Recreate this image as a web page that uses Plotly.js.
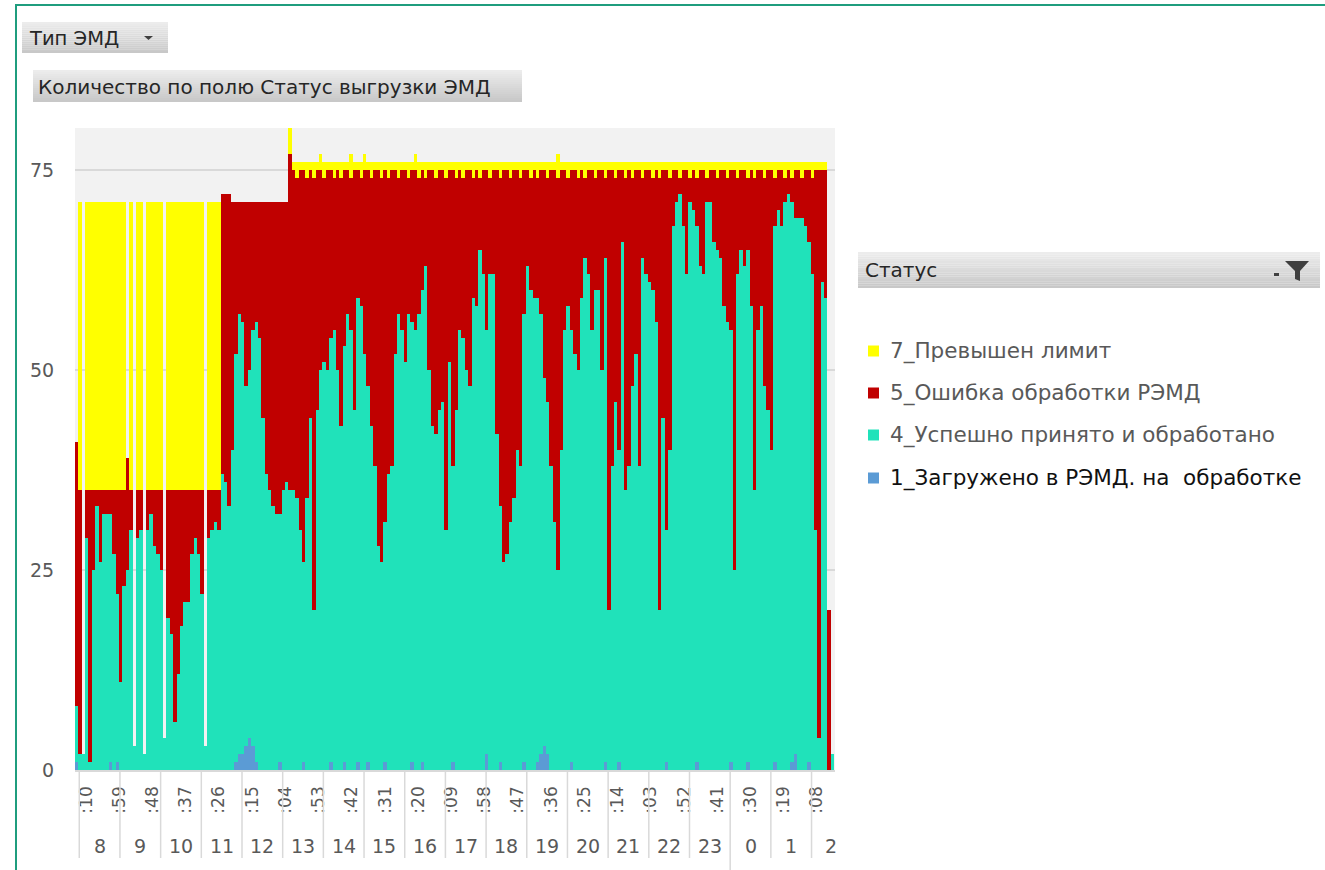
<!DOCTYPE html>
<html><head><meta charset="utf-8">
<script src="https://cdn.plot.ly/plotly-3.0.1.min.js"></script>
<style>html,body{margin:0;padding:0;background:#fff;} #chart{width:1325px;height:870px;}</style>
</head><body><div id="chart"></div>
<script>
// ---------- DATA ----------
const seriesNames = ['1_Загружено в РЭМД. на  обработке', '4_Успешно принято и обработано', '5_Ошибка обработки РЭМД', '7_Превышен лимит'];
const seriesColors = ['#5b9bd5', '#20e2ba', '#c00000', '#ffff00'];

// counts per 5-minute bin (bin 0 centred 4 minutes before 8:00)
const loaded = [
1,0,0,0,0,0,0,0,0,0, 1,0,1,0,0,0,0,0,0,0, 0,0,0,0,0,0,0,0,0,0, 0,0,0,0,0,0,0,0,0,0,
0,0,0,0,0,0,0,1,2,2, 3,4,3,1,0,0,0,0,0,0, 1,0,0,0,0,0,0,1,0,0, 0,0,0,0,0,1,0,0,0,1,
0,0,0,1,0,0,1,0,0,0, 0,1,0,0,0,0,0,0,0,1, 0,0,1,0,0,0,0,0,0,0, 0,1,0,0,0,0,0,0,0,0,
0,2,0,0,0,1,0,0,0,0, 0,0,1,0,0,0,1,2,3,2, 0,0,0,0,0,0,1,0,0,0, 0,0,0,0,0,0,1,0,0,0,
1,0,0,0,0,0,0,0,0,0, 0,0,0,0,1,0,0,0,0,0, 0,0,0,1,0,0,0,0,0,0, 0,0,0,1,0,0,0,0,1,0,
0,0,0,0,0,0,1,0,0,0, 0,1,2,0,0,0,1,0,0,0, 0,0,0,0];
const success = [
7,2,2,29,1,25,33,26,32,32, 31,27,21,11,23,25,30,3,29,30, 2,30,32,28,27,25,4,19,17,6,
12,18,21,21,27,29,27,22,3,29, 30,31,30,37,36,33,40,51,55,54, 45,46,52,55,54,44,37,35,33,32,
31,35,36,35,35,34,30,25,34,44, 20,45,50,51,50,53,55,50,43,52, 57,55,45,58,58,52,47,43,38,28,
26,30,37,38,52,57,55,51,57,55, 55,57,59,63,50,43,42,45,46,30, 51,37,45,55,54,50,48,59,58,65,
62,53,62,62,42,32,26,27,31,34, 40,38,56,63,60,59,58,55,46,44, 38,31,25,40,55,58,54,52,50,59,
64,62,55,60,60,50,63,20,38,46, 39,66,35,38,48,52,38,64,62,61, 60,56,20,44,29,40,68,71,72,68,
62,71,70,67,63,62,71,71,66,65, 64,58,56,54,25,62,65,63,64,58, 35,55,58,48,45,40,67,70,68,71,
72,70,67,69,69,68,65,62,30,4, 61,59,0,2];
const errors = [
33,33,0,6,34,10,2,9,3,3, 3,8,13,24,12,14,5,0,6,5, 0,5,3,7,8,10,0,16,18,29,
23,17,14,14,8,6,8,13,0,6, 5,4,5,35,36,39,31,19,14,15, 23,21,16,15,17,27,34,36,38,39,
39,36,35,42,40,40,45,49,40,31, 54,30,25,23,25,21,19,25,31,22, 18,19,30,16,16,23,27,31,37,47,
48,44,37,37,23,17,20,24,17,19, 20,17,15,11,25,32,32,30,29,44, 24,37,29,20,20,25,27,15,17,9,
13,20,12,13,33,41,49,48,43,41, 35,36,18,12,14,16,15,18,26,28, 37,44,49,35,20,16,20,23,24,16,
10,13,20,14,15,25,10,55,37,28, 35,9,39,37,26,23,37,10,13,14, 14,19,54,31,45,34,7,4,2,7,
13,3,5,6,12,13,3,4,9,9, 11,17,18,20,50,12,10,12,9,17, 39,20,17,26,30,35,6,5,7,3,
3,3,6,6,5,7,9,12,45,71, 14,16,20,0];
const limit = [
0,36,0,36,36,36,36,36,36,36, 36,36,36,36,36,0,36,0,36,36, 0,36,36,36,36,36,0,36,36,36,
36,36,36,36,36,36,36,36,0,36, 36,36,36,0,0,0,0,0,0,0, 0,0,0,0,0,0,0,0,0,0,
0,0,0,4,1,2,1,1,2,1, 2,1,2,2,1,1,2,1,2,1, 1,3,1,1,2,2,1,2,1,1,
2,1,2,1,1,2,1,1,2,1, 2,2,1,2,1,1,2,1,1,2, 1,1,2,1,2,1,1,2,1,2,
1,1,2,1,1,2,1,1,2,1, 1,2,1,1,2,1,2,1,1,2, 1,1,3,1,1,2,1,1,2,1,
2,1,1,2,1,1,2,1,1,2, 1,1,2,1,2,1,1,2,1,1, 2,1,2,1,1,2,1,1,2,1,
1,2,1,2,1,1,2,1,1,2, 1,1,2,1,1,2,1,1,2,1, 2,1,1,2,1,1,2,1,1,2,
1,2,1,1,2,1,1,2,1,1, 1,1,0,0];

const firstBinMinute = -4;   // minutes after 8:00
const binMinutes = 5;
const hours = [8,9,10,11,12,13,14,15,16,17,18,19,20,21,22,23,0,1,2];
const lastHourLabelMinute = 1108;   // label of the partly shown last hour group
const firstLabelMinute = 10, labelEvery = 49, labelCount = 23;
const dayBreakHour = 0;
const yTicks = [0,25,50,75];

// ---------- GEOMETRY ----------
const W = 1325, H = 870;
const PL = 75, PR = 835, PT = 128, PB = 770;
const xMin = -6.3, xMax = 1114.6, yMax = 80.25;
const fx = px => (px - PL) / (PR - PL);
const fy = py => (PB - py) / (PB - PT);

const xs = success.map((_, i) => firstBinMinute + binMinutes * i);
const series = [loaded, success, errors, limit];
const traces = series.map((vals, i) => ({
  type: 'bar', x: xs, y: vals, name: seriesNames[i],
  marker: {color: seriesColors[i], line: {width: 0}},
  hoverinfo: 'skip'
}));

const tickvals = [], ticktext = [];
for (let i = 0; i < labelCount; i++) {
  const m = firstLabelMinute + labelEvery * i;
  tickvals.push(m);
  ticktext.push(':' + String(m % 60).padStart(2, '0'));
}

const shapes = [], annotations = [];
const grey = '#595959';

// hour separators + hour labels
hours.forEach((h, i) => {
  const start = i * 60;
  shapes.push({type: 'line', xref: 'x', yref: 'paper', x0: start, x1: start,
    y0: 0, y1: fy(h === dayBreakHour ? 872 : 858), line: {color: '#d9d9d9', width: 1.5}});
  const center = (i === hours.length - 1) ? lastHourLabelMinute : start + 30;
  annotations.push({xref: 'x', yref: 'paper', x: center, y: fy(846),
    text: String(h), showarrow: false, xanchor: 'center', yanchor: 'middle',
    font: {size: 19, color: grey}});
});

// button helper (vertical gradient imitation)
function button(x0, y0, x1, y1) {
  const n = 16;
  const c0 = [236, 236, 236], c1 = [200, 200, 200];
  for (let i = 0; i < n; i++) {
    const t = i / (n - 1);
    const c = c0.map((v, j) => Math.round(v + (c1[j] - v) * t));
    shapes.push({type: 'rect', xref: 'paper', yref: 'paper',
      x0: fx(x0), x1: fx(x1), y0: fy(y0 + (y1 - y0) * i / n), y1: fy(y0 + (y1 - y0) * (i + 1) / n),
      line: {width: 0}, fillcolor: `rgb(${c[0]},${c[1]},${c[2]})`, layer: 'below'});
  }
}
button(22, 22, 168, 53);
annotations.push({xref: 'paper', yref: 'paper', x: fx(27), y: fy(38), text: 'Тип ЭМД',
  showarrow: false, xanchor: 'left', yanchor: 'middle', font: {size: 19.5, color: '#262626'}});
shapes.push({type: 'path', xref: 'paper', yref: 'paper',
  path: `M ${fx(144)},${fy(36)} L ${fx(153)},${fy(36)} L ${fx(148.5)},${fy(40)} Z`,
  fillcolor: '#404040', line: {width: 0}});

button(33, 70, 522, 102);
annotations.push({xref: 'paper', yref: 'paper', x: fx(36), y: fy(87), text: 'Количество по полю Статус выгрузки ЭМД',
  showarrow: false, xanchor: 'left', yanchor: 'middle', font: {size: 20, color: '#262626'}});

button(858, 252, 1320, 288);
annotations.push({xref: 'paper', yref: 'paper', x: fx(863), y: fy(270), text: 'Статус',
  showarrow: false, xanchor: 'left', yanchor: 'middle', font: {size: 20, color: '#262626'}});
shapes.push({type: 'path', xref: 'paper', yref: 'paper',
  path: `M ${fx(1285)},${fy(261)} L ${fx(1309)},${fy(261)} L ${fx(1300)},${fy(271)} L ${fx(1300)},${fy(281)} L ${fx(1295)},${fy(279)} L ${fx(1295)},${fy(271)} Z`,
  fillcolor: '#404040', line: {width: 0}});
shapes.push({type: 'rect', xref: 'paper', yref: 'paper', x0: fx(1274), x1: fx(1279), y0: fy(276), y1: fy(273),
  fillcolor: '#404040', line: {width: 0}});

// legend (top to bottom: 7, 5, 4, 1)
const legendOrder = [3, 2, 1, 0];
const legendY = [351, 393, 435, 478];
legendOrder.forEach((si, i) => {
  shapes.push({type: 'rect', xref: 'paper', yref: 'paper', x0: fx(868), x1: fx(879),
    y0: fy(legendY[i] + 5.5), y1: fy(legendY[i] - 5.5), fillcolor: seriesColors[si], line: {width: 0}});
  annotations.push({xref: 'paper', yref: 'paper', x: fx(888), y: fy(legendY[i]), text: seriesNames[si],
    showarrow: false, xanchor: 'left', yanchor: 'middle',
    font: {size: 21.5, color: si === 0 ? '#111111' : grey}});
});

// outer green frame
shapes.push({type: 'line', xref: 'paper', yref: 'paper', x0: fx(16), x1: fx(16), y0: fy(5), y1: fy(872),
  line: {color: '#1f9d7e', width: 2}});
shapes.push({type: 'line', xref: 'paper', yref: 'paper', x0: fx(15), x1: fx(1327), y0: fy(5), y1: fy(5),
  line: {color: '#1f9d7e', width: 2}});

const layout = {
  width: W, height: H,
  margin: {l: PL, r: W - PR, t: PT, b: H - PB, pad: 0},
  paper_bgcolor: '#ffffff', plot_bgcolor: '#f2f2f2',
  font: {family: 'DejaVu Sans, Noto Sans, sans-serif', color: grey},
  barmode: 'stack', bargap: 0, showlegend: false,
  xaxis: {range: [xMin, xMax], tickvals, ticktext, tickangle: -90,
    ticks: 'outside', ticklen: 8, tickcolor: 'rgba(0,0,0,0)',
    tickfont: {size: 17, color: grey}, showgrid: false, zeroline: false,
    showline: true, linecolor: '#d9d9d9', linewidth: 1.5, fixedrange: true},
  yaxis: {range: [0, yMax], tickvals: yTicks, ticks: 'outside', ticklen: 16, tickcolor: 'rgba(0,0,0,0)',
    tickfont: {size: 19, color: grey}, showgrid: true, gridcolor: '#d9d9d9', gridwidth: 2,
    zeroline: false, showline: false, fixedrange: true},
  shapes, annotations
};

Plotly.newPlot('chart', traces, layout, {displayModeBar: false, staticPlot: true});
</script>
</body></html>
